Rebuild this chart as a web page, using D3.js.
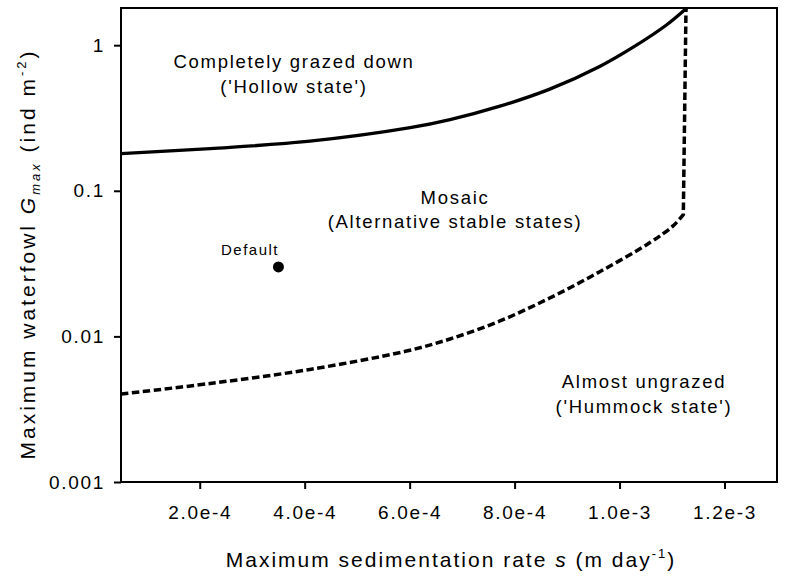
<!DOCTYPE html>
<html><head><meta charset="utf-8">
<script src="https://cdn.jsdelivr.net/npm/d3@7/dist/d3.min.js"></script>
<style>
body{margin:0;background:#fff}
svg{display:block}
text{font-family:"Liberation Sans",Arial,sans-serif;fill:#000}
</style>
</head><body>
<svg id="chart" width="787" height="580"></svg>
<script>
// ---- data ----
const xTickValues = [2e-4, 4e-4, 6e-4, 8e-4, 1e-3, 1.2e-3];
const xTickLabels = ["2.0e-4", "4.0e-4", "6.0e-4", "8.0e-4", "1.0e-3", "1.2e-3"];
const yTickValues = [0.001, 0.01, 0.1, 1];
const yTickLabels = ["0.001", "0.01", "0.1", "1"];

// upper boundary (solid): completely grazed down above
const upperS = [5.0e-5, 2.2e-4, 4.1e-4, 6.01e-4, 6.77e-4, 7.72e-4, 8.67e-4, 9.63e-4, 1.026e-3, 1.090e-3, 1.128e-3];
const upperG = [0.180, 0.195, 0.219, 0.271, 0.308, 0.381, 0.499, 0.717, 0.969, 1.382, 1.8];

// lower boundary (dashed): almost ungrazed below
const lowerS = [5.0e-5, 2.2e-4, 4.1e-4, 5.94e-4, 6.77e-4, 7.72e-4, 8.67e-4, 9.63e-4, 1.058e-3, 1.102e-3, 1.1215e-3];
const lowerG = [0.00402, 0.00475, 0.00593, 0.00793, 0.00960, 0.01276, 0.01835, 0.0279, 0.0441, 0.0574, 0.0686];
// vertical part of the lower boundary
const lowerTopS = [1.1266e-3];
const lowerTopG = [1.8];

const defaultS = [3.5e-4];
const defaultG = [0.03];
const defaultLabel = ["Default"];

const regionLines = [
  ["Completely grazed down", "('Hollow state')"],
  ["Mosaic", "(Alternative stable states)"],
  ["Almost ungrazed", "('Hummock state')"]
];

// ---- layout ----
const L = 121, R = 777, T = 8, B = 482;
const svg = d3.select("#chart");

const x = d3.scaleLinear().domain([5e-5, 1.3e-3]).range([L, R]);
const y = d3.scaleLog().domain([0.001, 1.8]).range([B, T]);

svg.append("defs").append("clipPath").attr("id", "clip")
  .append("rect").attr("x", L).attr("y", T - 2).attr("width", R - L).attr("height", B - T + 2);

// axes
const xAxis = d3.axisBottom(x).tickValues(xTickValues)
  .tickFormat((d, i) => xTickLabels[i]).tickSize(7).tickPadding(17);
const gx = svg.append("g").attr("transform", `translate(0,${B})`).call(xAxis);
gx.select(".domain").remove();
gx.selectAll(".tick line").attr("stroke", "#000").attr("stroke-width", 2);
gx.selectAll(".tick text").attr("font-size", 19).attr("letter-spacing", "1.7px")
  .style("font-family", '"Liberation Sans", Arial, sans-serif').attr("fill", "#000");

const yAxis = d3.axisLeft(y).tickValues(yTickValues)
  .tickFormat((d, i) => yTickLabels[i]).tickSize(7).tickPadding(9);
const gy = svg.append("g").attr("transform", `translate(${L},0)`).call(yAxis);
gy.select(".domain").remove();
gy.selectAll(".tick line").attr("stroke", "#000").attr("stroke-width", 2);
gy.selectAll(".tick text").attr("font-size", 19).attr("letter-spacing", "1.7px")
  .style("font-family", '"Liberation Sans", Arial, sans-serif').attr("fill", "#000");

// frame
svg.append("rect").attr("x", L).attr("y", T).attr("width", R - L).attr("height", B - T)
  .attr("fill", "none").attr("stroke", "#000").attr("stroke-width", 2);

// curves
const plot = svg.append("g").attr("clip-path", "url(#clip)");
const smooth = d3.line().x(d => x(d[0])).y(d => y(d[1])).curve(d3.curveCatmullRom.alpha(0.5));
plot.append("path").datum(upperS.map((s, i) => [s, upperG[i]]))
  .attr("d", smooth).attr("fill", "none").attr("stroke", "#000").attr("stroke-width", 3.3);

const lowerPts = lowerS.map((s, i) => [s, lowerG[i]]);
const topPts = lowerTopS.map((s, i) => [s, lowerTopG[i]]);
const lowerPath = smooth(lowerPts) + topPts.map(p => `L${x(p[0])},${y(p[1])}`).join("");
plot.append("path").attr("d", lowerPath)
  .attr("fill", "none").attr("stroke", "#000").attr("stroke-width", 3.5)
  .attr("stroke-dasharray", "7.5,3.5");

// default point
svg.selectAll("circle.def").data(defaultS).enter().append("circle")
  .attr("class", "def").attr("cx", d => x(d)).attr("cy", (d, i) => y(defaultG[i]))
  .attr("r", 5.5).attr("fill", "#000");
svg.append("text").attr("x", 250).attr("y", 255).attr("text-anchor", "middle")
  .attr("font-size", 15).attr("letter-spacing", "1.5px").text(defaultLabel[0]);

// region labels
const regionPos = [[294, 68, 93], [455, 203.5, 227.5], [644, 388, 413]];
regionLines.forEach((lines, k) => {
  const [cx, y1, y2] = regionPos[k];
  [y1, y2].forEach((yy, j) => {
    svg.append("text").attr("x", cx).attr("y", yy).attr("text-anchor", "middle")
      .attr("font-size", 18.5).attr("letter-spacing", "1.7px").text(lines[j]);
  });
});

// x axis title
const xt = svg.append("text").attr("x", 451).attr("y", 567).attr("text-anchor", "middle")
  .attr("font-size", 21).attr("letter-spacing", "2px");
xt.append("tspan").text("Maximum sedimentation rate ");
xt.append("tspan").attr("font-style", "italic").text("s");
xt.append("tspan").text(" (m day");
xt.append("tspan").attr("font-size", 13).attr("baseline-shift", "9px").text("-1");
xt.append("tspan").text(")");

// y axis title
const yt = svg.append("text").attr("transform", "translate(35,254) rotate(-90)")
  .attr("text-anchor", "middle").attr("font-size", 21).attr("letter-spacing", "3px");
yt.append("tspan").text("Maximum waterfowl ");
yt.append("tspan").attr("font-style", "italic").text("G");
yt.append("tspan").attr("font-style", "italic").attr("font-size", 13).attr("baseline-shift", "-5px").text("max");
yt.append("tspan").text(" (ind m");
yt.append("tspan").attr("font-size", 13).attr("baseline-shift", "9px").text("-2");
yt.append("tspan").text(")");
</script>
</body></html>
